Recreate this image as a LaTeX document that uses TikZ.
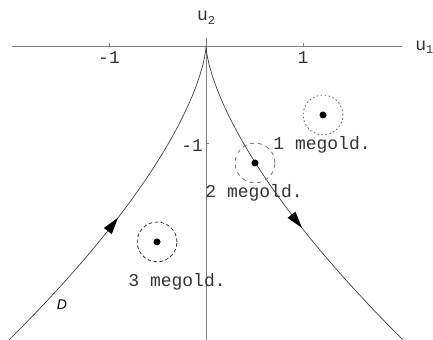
\documentclass[tikz,border=0pt]{standalone}
\usepackage{fontspec}
\newfontfamily\mono{Liberation Mono}
\newfontfamily\sansit{Liberation Sans}
\begin{document}
\begin{tikzpicture}[x=97pt,y=97pt,
  axis/.style={draw=black!50,line width=0.8pt},
  curve/.style={draw=black!75,line width=0.7pt},
  lbl/.style={font=\mono\fontsize{18}{18}\selectfont,text=black!80,inner sep=0pt},
  dotpt/.style={fill=black},
  ring/.style={line width=0.8pt},
  arrowhd/.style={fill=black}]
\useasboundingbox (-2.124,-3.031) rectangle (2.340,0.474);
% axes
\draw[axis] (-2.0,0) -- (2.02,0);
\draw[axis] (0,0.082) -- (0,-3.031);
\draw[axis] (-1,0) -- (-1,0.03);
\draw[axis] (1,0) -- (1,0.03);
\draw[axis] (0,-1) -- (0.03,-1);
% labels
\node[lbl] (tm1) at (-1.0,-0.115) {-1};
\node[lbl] (t1) at (1.0,-0.12) {1};
\node[lbl] (vm1) at (-0.144,-1.03) {-1};
\node[lbl] (u2) at (0,0.29) {u\raisebox{-0.35ex}{\fontsize{12}{12}\selectfont 2}};
\node[lbl] (u1) at (2.25,-0.01) {u\raisebox{-0.35ex}{\fontsize{12}{12}\selectfont 1}};
% cusp curve
\draw[curve] plot[domain=-1.005:1.005,samples=161,variable=\s] ({2*\s*\s*\s},{-3*\s*\s});
% arrowheads
\fill[arrowhd,shift={(-0.906,-1.769)},rotate=52.5] (0,0) -- (-17pt,5pt) -- (-17pt,-5pt) -- cycle;
\fill[arrowhd,shift={(0.990,-1.877)},rotate=-51.7] (0,0) -- (-17pt,5pt) -- (-17pt,-5pt) -- cycle;
% solutions
\draw[ring,black!60,dash pattern=on 1.5pt off 2.5pt] (1.206,-0.711) circle (0.205);
\fill[dotpt] (1.206,-0.711) circle (0.036);
\draw[ring,black!55,dash pattern=on 4pt off 4pt] (0.505,-1.206) circle (0.205);
\fill[dotpt] (0.505,-1.206) circle (0.036);
\draw[ring,black!80,dash pattern=on 3.5pt off 2.5pt] (-0.505,-2.02) circle (0.205);
\fill[dotpt] (-0.505,-2.02) circle (0.036);
\node[lbl] (m1) at (1.196,-1.02) {1 megold.};
\node[lbl] (m2) at (0.495,-1.515) {2 megold.};
\node[lbl] (m3) at (-0.299,-2.433) {3 megold.};
\node[font=\sansit\itshape\fontsize{14}{14}\selectfont,inner sep=0pt] (D) at (-1.485,-2.67) {D};
\end{tikzpicture}
\end{document}
